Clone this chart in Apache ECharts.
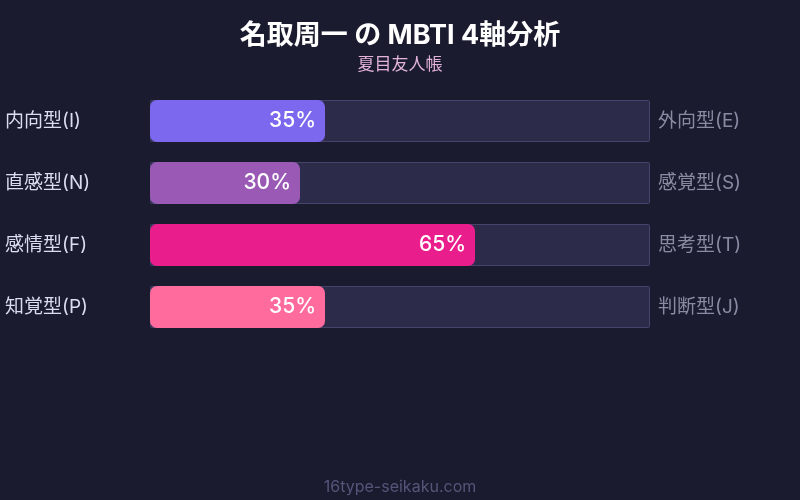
<!DOCTYPE html>
<html>
<head>
<meta charset="utf-8">
<script src="https://cdn.jsdelivr.net/npm/echarts@6/dist/echarts.min.js"></script>
<style>
  html, body { margin: 0; padding: 0; background: #1b1b2f; }
  #main { width: 800px; height: 500px; }
</style>
</head>
<body>
<div id="main"></div>
<script>
// 左右のラベルと数値
var leftLabels = ['内向型(I)', '直感型(N)', '感情型(F)', '知覚型(P)'];
var rightLabels = ['外向型(E)', '感覚型(S)', '思考型(T)', '判断型(J)'];
var values = [35, 30, 65, 35];
var barColors = ['#7b68ee', '#9b59b6', '#e91e8c', '#ff6b9d'];
var trackValues = [100, 100, 100, 100];

var font = 'Inter, "Noto Sans CJK JP", sans-serif';

var chart = echarts.init(document.getElementById('main'));

var option = {
    backgroundColor: '#1b1b2f',
    title: [
        {
            text: '名取周一 の MBTI 4軸分析',
            left: 'center',
            top: 17,
            textStyle: { color: '#ffffff', fontSize: 27, fontWeight: 'bold', fontFamily: font }
        },
        {
            text: '夏目友人帳',
            left: 'center',
            top: 51,
            textStyle: { color: '#e3b3dc', fontSize: 17, fontWeight: 'normal', fontFamily: font }
        },
        {
            text: '16type-seikaku.com',
            left: 'center',
            top: 474,
            textStyle: { color: '#55557a', fontSize: 16, fontWeight: 'normal', fontFamily: font }
        }
    ],
    grid: { left: 150, right: 150, top: 90, height: 248 },
    xAxis: {
        type: 'value',
        min: 0,
        max: 100,
        show: false
    },
    yAxis: [
        {
            type: 'category',
            data: leftLabels,
            inverse: true,
            axisLine: { show: false },
            axisTick: { show: false },
            axisLabel: {
                color: '#dcdcf0',
                fontSize: 19,
                fontFamily: font,
                align: 'left',
                margin: 145
            }
        },
        {
            type: 'category',
            data: rightLabels,
            inverse: true,
            position: 'right',
            axisLine: { show: false },
            axisTick: { show: false },
            axisLabel: {
                color: '#8a8aa3',
                fontSize: 19,
                fontFamily: font,
                margin: 8
            }
        }
    ],
    series: [
        {
            type: 'bar',
            data: trackValues,
            barWidth: 42,
            silent: true,
            itemStyle: {
                color: '#2c2b4a',
                borderColor: '#45446a',
                borderWidth: 1,
                borderRadius: 1
            },
            z: 1
        },
        {
            type: 'bar',
            data: values.map(function (v, i) {
                return { value: v, itemStyle: { color: barColors[i] } };
            }),
            barWidth: 42,
            barGap: '-100%',
            itemStyle: { borderRadius: 7 },
            label: {
                show: true,
                position: 'insideRight',
                distance: 9,
                formatter: '{c}%',
                color: '#ffffff',
                fontSize: 21,
                fontWeight: 500,
                fontFamily: font
            },
            z: 2
        }
    ]
};

chart.setOption(option);
</script>
</body>
</html>
